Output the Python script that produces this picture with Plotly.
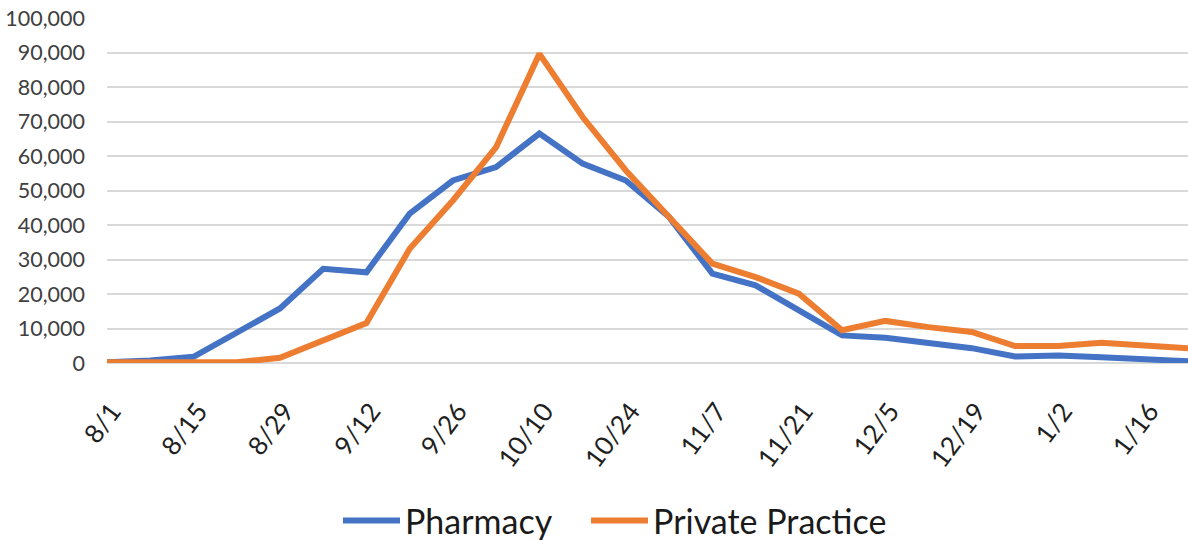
import plotly.graph_objects as go

weeks = ["8/1", "8/8", "8/15", "8/22", "8/29", "9/5", "9/12", "9/19", "9/26", "10/3",
         "10/10", "10/17", "10/24", "10/31", "11/7", "11/14", "11/21", "11/28", "12/5",
         "12/12", "12/19", "12/26", "1/2", "1/9", "1/16", "1/23"]

pharmacy = [200, 700, 1800, 8600, 15800, 27300, 26300, 43300, 52900, 56800,
            66500, 57800, 52900, 42300, 25900, 22500, 15200, 8000, 7300,
            5600, 4300, 1900, 2200, 1700, 1300, 500]

private_practice = [200, 200, 200, 200, 1500, 6500, 11600, 33100, 47100, 62600,
                    89600, 71300, 55800, 42300, 28800, 24900, 20100, 9500, 12200,
                    10400, 9000, 4900, 4900, 5900, 5100, 4300]

tick_labels = ["8/1", "8/15", "8/29", "9/12", "9/26", "10/10", "10/24", "11/7",
               "11/21", "12/5", "12/19", "1/2", "1/16"]

y_ticks = list(range(0, 100001, 10000))

FONT = "Lato, 'Noto Sans', sans-serif"

fig = go.Figure()
fig.add_trace(go.Scatter(x=weeks, y=pharmacy, mode="lines", name="Pharmacy",
                         line=dict(color="#4472C4", width=6), legend="legend"))
fig.add_trace(go.Scatter(x=weeks, y=private_practice, mode="lines", name="Private Practice",
                         line=dict(color="#ED7D31", width=6), legend="legend2"))

legend_style = dict(orientation="h", xref="container", yref="container",
                    xanchor="left", y=0.0352, yanchor="middle",
                    font=dict(size=34, color="#1A1A1A", family=FONT),
                    itemwidth=57, bgcolor="rgba(0,0,0,0)")

fig.update_layout(
    width=1188, height=540,
    margin=dict(l=107, r=0, t=17.5, b=177.3, autoexpand=False),
    paper_bgcolor="white", plot_bgcolor="white",
    font=dict(family=FONT, color="#404040"),
    showlegend=True,
    legend=dict(x=0.2845, **legend_style),
    legend2=dict(x=0.4933, **legend_style),
    xaxis=dict(type="category", categoryorder="array", categoryarray=weeks,
               range=[0, len(weeks) - 1],
               tickmode="array", tickvals=tick_labels, ticktext=tick_labels,
               tickangle=-53, tickfont=dict(size=26, color="#1F1F1F"),
               showgrid=False, showline=False, ticks="",
               ticklabelstandoff=27, ticklabelshift=5),
    yaxis=dict(range=[0, 100000], tickvals=y_ticks, tickformat=",d",
               tickfont=dict(size=21.5, color="#404040"),
               showgrid=True, gridcolor="#D9D9D9", gridwidth=1.5,
               zeroline=True, zerolinecolor="#D9D9D9", zerolinewidth=1.5,
               showline=False, ticks="", ticklabelstandoff=21),
)

# remove the browser's default 8px page margin so the figure fills the window
fig.write_html("out.html", config={"displayModeBar": False},
               post_script="document.body.style.margin='0px';")
